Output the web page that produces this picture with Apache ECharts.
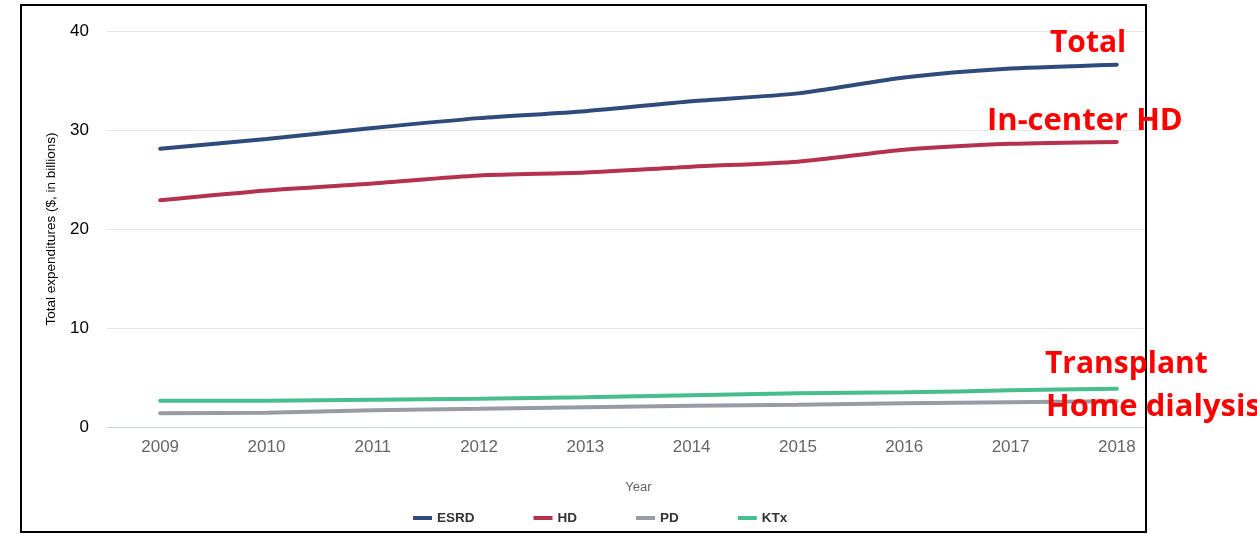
<!DOCTYPE html>
<html>
<head>
<meta charset="utf-8">
<script src="https://cdn.jsdelivr.net/npm/echarts@6/dist/echarts.min.js"></script>
<style>
  html, body { margin: 0; padding: 0; background: #fff; }
  #chart { width: 1257px; height: 534px; }
</style>
</head>
<body>
<div id="chart"></div>
<script>
// Medicare ESRD spending by modality, 2009–2018 ($ billions)
var years = ['2009', '2010', '2011', '2012', '2013', '2014', '2015', '2016', '2017', '2018'];
var esrd = [28.1, 29.1, 30.2, 31.2, 31.9, 32.9, 33.7, 35.3, 36.2, 36.6];
var hd   = [22.9, 23.9, 24.6, 25.4, 25.7, 26.3, 26.8, 28.0, 28.6, 28.8];
var pd   = [1.38, 1.45, 1.7, 1.85, 2.0, 2.15, 2.25, 2.4, 2.5, 2.6];
var ktx  = [2.65, 2.65, 2.75, 2.85, 3.0, 3.2, 3.4, 3.5, 3.7, 3.87];
var yTicks = [0, 10, 20, 30, 40];

var chart = echarts.init(document.getElementById('chart'), null, { renderer: 'canvas' });

function line(name, data, color) {
  return {
    name: name,
    type: 'line',
    data: data,
    smooth: 0.25,
    symbol: 'none',
    lineStyle: { width: 4, color: color, cap: 'round' },
    itemStyle: { color: color }
  };
}

var labelFont = 'Liberation Sans, Arial, Helvetica, sans-serif';
var noteFont = 'Open Sans, sans-serif';

chart.setOption({
  animation: false,
  backgroundColor: '#ffffff',
  grid: { left: 107, right: 87, top: 31, bottom: 107 },
  legend: {
    left: 413,
    top: 511,
    padding: 0,
    itemWidth: 19,
    itemHeight: 4,
    itemGap: 59,
    icon: 'rect',
    textStyle: { fontFamily: labelFont, fontWeight: 'bold', fontSize: 13.5, color: '#333333' },
    data: ['ESRD', 'HD', 'PD', 'KTx']
  },
  xAxis: {
    type: 'category',
    data: years,
    boundaryGap: true,
    name: 'Year',
    nameLocation: 'middle',
    nameGap: 54,
    nameTextStyle: { fontFamily: labelFont, fontSize: 13, color: '#666666' },
    axisLine: { lineStyle: { color: '#ccd6eb', width: 1 } },
    axisTick: { show: false },
    axisLabel: { fontFamily: labelFont, fontSize: 17, color: '#666666', margin: 12 }
  },
  yAxis: {
    type: 'value',
    min: yTicks[0],
    max: yTicks[yTicks.length - 1],
    interval: 10,
    name: 'Total expenditures ($, in billions)',
    nameLocation: 'middle',
    nameGap: 49,
    nameTextStyle: { fontFamily: labelFont, fontSize: 13.5, color: '#000000' },
    axisLine: { show: false },
    axisTick: { show: false },
    axisLabel: { fontFamily: labelFont, fontSize: 17, color: '#000000', margin: 18 },
    splitLine: { lineStyle: { color: '#e6e6e6', width: 1 } }
  },
  series: [
    line('ESRD', esrd, '#2f4b7c'),
    line('HD', hd, '#b5324f'),
    line('PD', pd, '#979ca4'),
    line('KTx', ktx, '#48bd8e')
  ],
  graphic: [
    // blank strip right of the frame
    { type: 'rect', z: 100, shape: { x: 1147, y: 0, width: 110, height: 534 }, style: { fill: '#ffffff' } },
    // frame
    { type: 'rect', z: 101, shape: { x: 21, y: 5, width: 1125, height: 527 },
      style: { fill: 'none', stroke: '#000000', lineWidth: 2 } },
    // callouts
    { type: 'text', z: 102, left: 1050, top: 28,
      style: { text: 'Total', fill: '#ff0000', font: 'bold 30px ' + noteFont } },
    { type: 'text', z: 102, left: 987, top: 106,
      style: { text: 'In-center HD', fill: '#ff0000', font: 'bold 31px ' + noteFont } },
    { type: 'text', z: 102, left: 1045, top: 349,
      style: { text: 'Transplant', fill: '#ff0000', font: 'bold 30px ' + noteFont } },
    { type: 'text', z: 102, left: 1046, top: 392,
      style: { text: 'Home dialysis', fill: '#ff0000', font: 'bold 31px ' + noteFont } }
  ]
});
</script>
</body>
</html>
